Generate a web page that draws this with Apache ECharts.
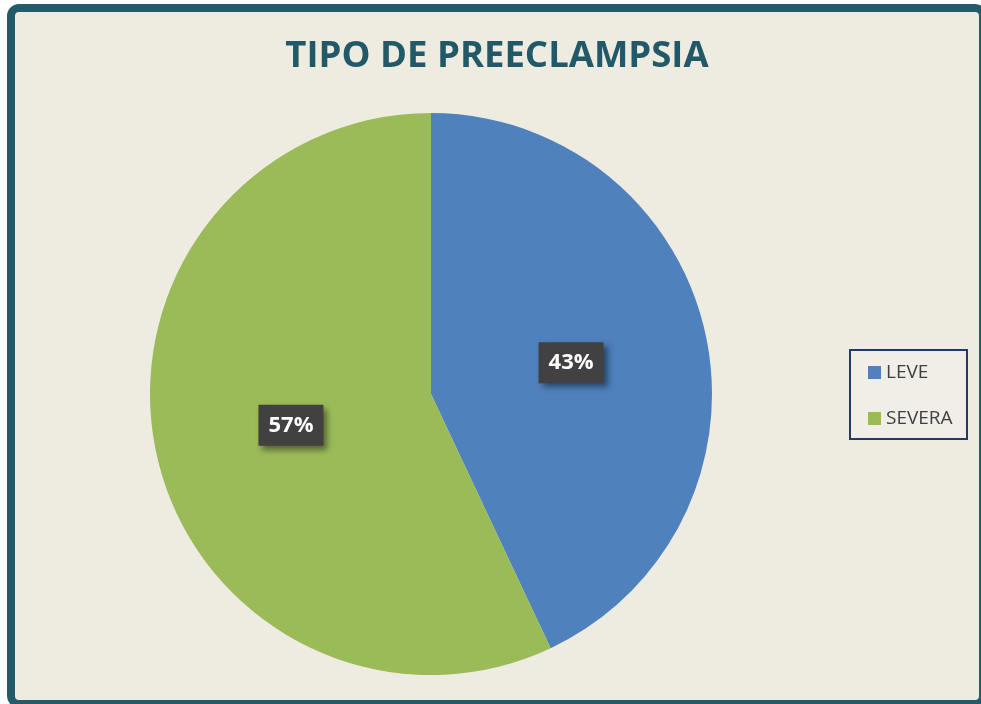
<!DOCTYPE html>
<html><head><meta charset="utf-8">
<script src="https://cdn.jsdelivr.net/npm/echarts@6/dist/echarts.min.js"></script>
<style>html,body{margin:0;padding:0;background:#fff;}#c{width:981px;height:704px;}</style>
</head><body><div id="c"></div>
<script>
const categories = ['LEVE', 'SEVERA'];
const values = [43, 57];
const colors = ['#4F81BD', '#9BBB59'];
const titleText = 'TIPO DE PREECLAMPSIA';

const chart = echarts.init(document.getElementById('c'));
chart.setOption({
  animation: false,
  graphic: [
    { type: 'rect', z: -10, shape: { x: 11, y: 8, width: 972, height: 696, r: 8 },
      style: { fill: '#EEECE1', stroke: '#245B6B', lineWidth: 8 } },
    { type: 'rect', z: -5, shape: { x: 850, y: 350, width: 117, height: 89 },
      style: { fill: '#F0EEE6', stroke: '#1F3A6B', lineWidth: 2 } }
  ],
  title: {
    text: titleText, left: 492, top: 33, textAlign: 'center',
    textStyle: { fontFamily: 'Open Sans', fontWeight: 'bold', fontSize: 36.5, color: '#215968' }
  },
  legend: {
    orient: 'vertical', left: 863, top: 358, itemWidth: 13, itemHeight: 13, itemGap: 27,
    icon: 'rect', data: categories,
    textStyle: { fontFamily: 'Open Sans', fontSize: 19, color: '#404040', padding: [0, 0, 0, 0] }
  },
  series: [{
    type: 'pie', center: [431, 394], radius: 281, startAngle: 90, clockwise: true,
    data: categories.map((c, i) => ({ name: c, value: values[i], itemStyle: { color: colors[i] } })),
    label: {
      position: 'inside', formatter: (p) => Math.round(p.percent) + '%',
      fontFamily: 'Open Sans', fontWeight: 'bold', fontSize: 22, color: '#fff',
      backgroundColor: '#414141', padding: [10, 10, 9, 10],
      shadowColor: 'rgba(0,0,0,0.45)', shadowBlur: 6, shadowOffsetX: 4, shadowOffsetY: 4
    },
    labelLine: { show: false },
    emphasis: { disabled: true }
  }]
});
</script></body></html>
